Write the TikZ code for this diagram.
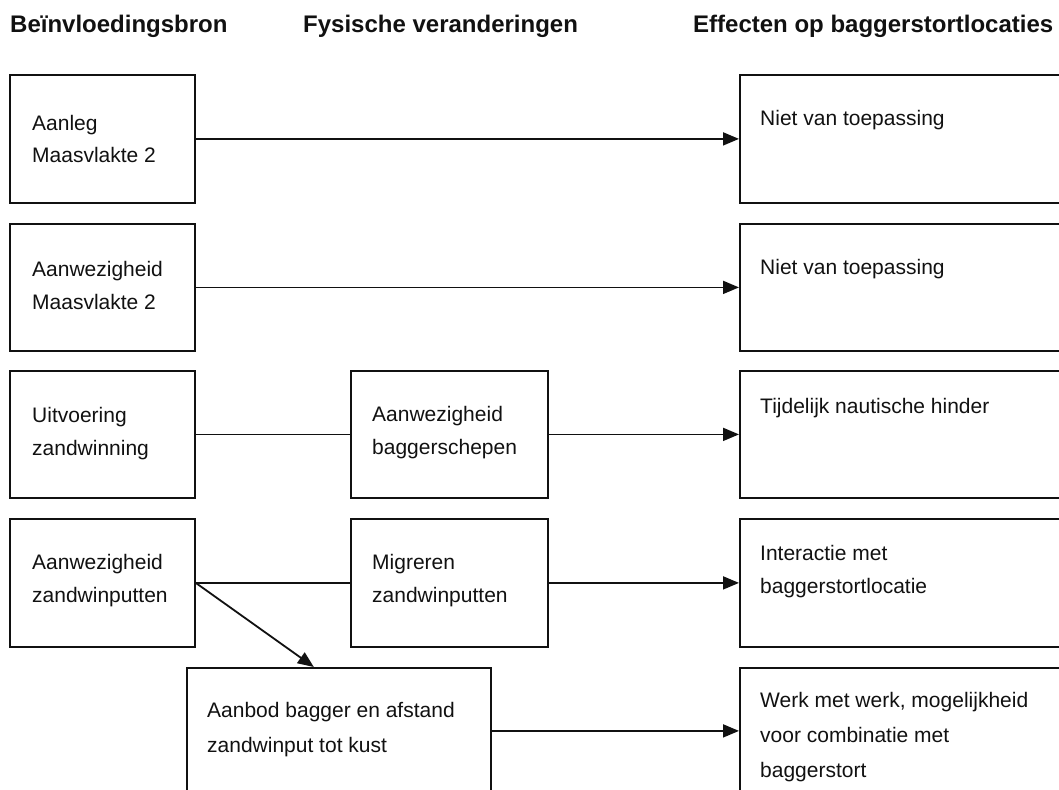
\documentclass[tikz,border=0pt]{standalone}
\usepackage{fontspec}
\setmainfont{Liberation Sans}
\usetikzlibrary{arrows.meta,calc}
\definecolor{ink}{HTML}{111111}

\begin{document}
\begin{tikzpicture}[x=1pt,y=-1pt,
  box/.style={draw=ink, line width=1.8pt, rectangle, inner sep=0pt, anchor=north west},
  txt/.style={anchor=base west, inner sep=0pt, font=\fontsize{21}{21}\selectfont, text=ink},
  head/.style={anchor=base west, inner sep=0pt, font=\fontsize{24}{24}\selectfont\bfseries, text=ink},
  link/.style={draw=ink, line width=1.8pt},
  arr/.style={link, -{Triangle[length=16pt,width=13pt]}}]

\useasboundingbox (0,0) rectangle (1059,789);
\clip (0,0) rectangle (1059,789);

% column headings
\node[head] (h1) at (10,33) {Beïnvloedingsbron};
\node[head] (h2) at (303,33) {Fysische veranderingen};
\node[head] (h3) at (693,33) {Effecten op baggerstortlocaties};

% left column: sources
\node[box, minimum width=185pt, minimum height=128pt] (L1) at (9,74) {};
\node[box, minimum width=185pt, minimum height=127pt] (L2) at (9,223) {};
\node[box, minimum width=185pt, minimum height=127pt] (L3) at (9,370) {};
\node[box, minimum width=185pt, minimum height=128pt] (L4) at (9,518) {};

% middle column: physical changes
\node[box, minimum width=197pt, minimum height=127pt] (M3) at (350,370) {};
\node[box, minimum width=197pt, minimum height=128pt] (M4) at (350,518) {};
\node[box, minimum width=304pt, minimum height=126pt] (B5) at (186,667) {};

% right column: effects (running past the page edge)
\node[box, minimum width=380pt, minimum height=128pt] (R1) at (739,74) {};
\node[box, minimum width=380pt, minimum height=127pt] (R2) at (739,223) {};
\node[box, minimum width=380pt, minimum height=127pt] (R3) at (739,370) {};
\node[box, minimum width=380pt, minimum height=128pt] (R4) at (739,518) {};
\node[box, minimum width=380pt, minimum height=126pt] (R5) at (739,667) {};

% box texts
\node[txt] (tL1a) at (32,130) {Aanleg};
\node[txt] (tL1b) at (32,162) {Maasvlakte 2};
\node[txt] (tL2a) at (32,276) {Aanwezigheid};
\node[txt] (tL2b) at (32,309) {Maasvlakte 2};
\node[txt] (tL3a) at (32,422) {Uitvoering};
\node[txt] (tL3b) at (32,455) {zandwinning};
\node[txt] (tL4a) at (32,569) {Aanwezigheid};
\node[txt] (tL4b) at (32,602) {zandwinputten};

\node[txt] (tM3a) at (372,421) {Aanwezigheid};
\node[txt] (tM3b) at (372,454) {baggerschepen};
\node[txt] (tM4a) at (372,569) {Migreren};
\node[txt] (tM4b) at (372,602) {zandwinputten};
\node[txt] (tB5a) at (207,717) {Aanbod bagger en afstand};
\node[txt] (tB5b) at (207,752) {zandwinput tot kust};

\node[txt] (tR1) at (760,125) {Niet van toepassing};
\node[txt] (tR2) at (760,274) {Niet van toepassing};
\node[txt] (tR3) at (760,413) {Tijdelijk nautische hinder};
\node[txt] (tR4a) at (760,560) {Interactie met};
\node[txt] (tR4b) at (760,593) {baggerstortlocatie};
\node[txt] (tR5a) at (760,707) {Werk met werk, mogelijkheid};
\node[txt] (tR5b) at (760,742) {voor combinatie met};
\node[txt] (tR5c) at (760,777) {baggerstort};

% connectors
\draw[arr] (L1.east) -- (R1.west);
\draw[arr] (L2.east) -- (R2.west);
\draw[link] (L3.east) -- (M3.west);
\draw[arr] (M3.east) -- (R3.west);
\draw[link] (L4.east) -- (M4.west);
\draw[arr] (M4.east) -- (R4.west);
\coordinate (B5in) at ($(B5.north west)!0.418!(B5.north east)$);
\draw[arr] (L4.east) -- (B5in);
\draw[arr] (B5.east) -- (R5.west);
\end{tikzpicture}
\end{document}
